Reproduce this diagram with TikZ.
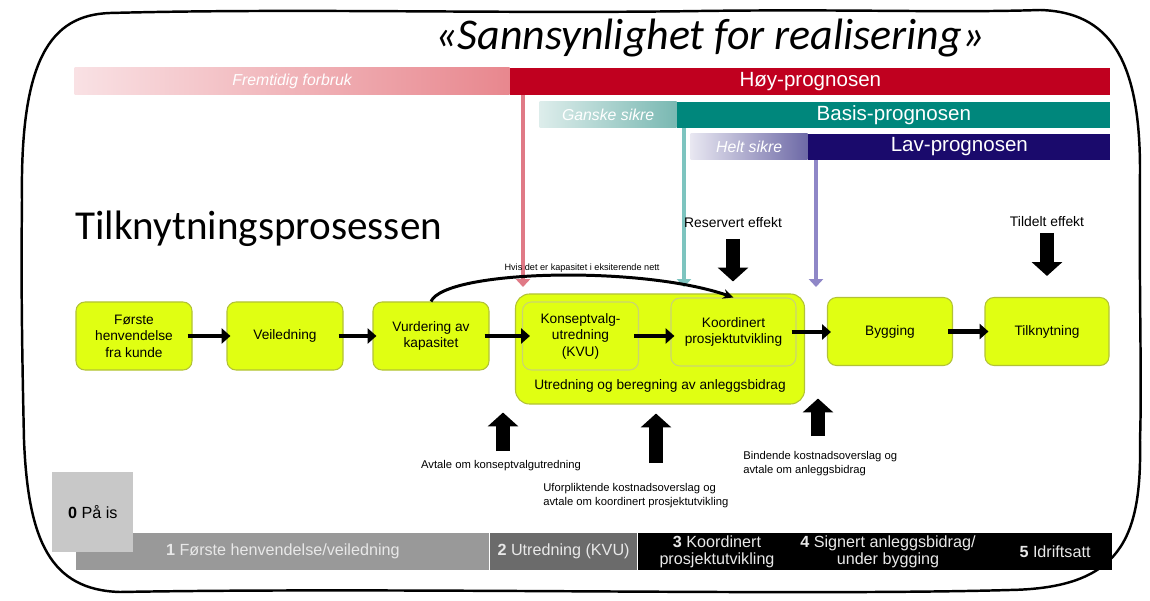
\documentclass[tikz,border=0pt]{standalone}
\usepackage{fontspec}
\setmainfont{Liberation Sans}
\newfontfamily\headfont{Carlito}
\usetikzlibrary{arrows.meta, positioning, calc}
\definecolor{boxfill}{HTML}{E0FF12}
\definecolor{boxedge}{HTML}{B2C236}
\definecolor{hoyred}{HTML}{C0001F}
\definecolor{hoyfadeL}{HTML}{F9E1E4}
\definecolor{hoyfadeR}{HTML}{E8878E}
\definecolor{hoyline}{HTML}{E07A86}
\definecolor{basisteal}{HTML}{00877C}
\definecolor{basisfadeL}{HTML}{DDEDEB}
\definecolor{basisfadeR}{HTML}{79B8B2}
\definecolor{basisline}{HTML}{7DC4BF}
\definecolor{lavnavy}{HTML}{1A0A6C}
\definecolor{lavfadeL}{HTML}{E8E7F1}
\definecolor{lavfadeR}{HTML}{6D69A6}
\definecolor{lavline}{HTML}{8F87C7}
\definecolor{phase0}{HTML}{C8C8C8}
\definecolor{phase1}{HTML}{999999}
\definecolor{phase2}{HTML}{6B6B6B}
\definecolor{phasetext}{HTML}{E8E8E8}
\newlength{\px}\setlength{\px}{0.02cm}
\tikzset{
  procbox/.style={draw=boxedge, line width=0.6pt, rounded corners=9\px, fill=boxfill,
    minimum width=116\px, minimum height=68\px, align=center, inner sep=1pt,
    font=\fontsize{7.8}{9.4}\selectfont},
  progbar/.style={inner sep=0pt, minimum height=27\px, text=white,
    font=\fontsize{11.7}{12}\selectfont},
  fadebar/.style={inner sep=0pt, minimum height=27\px, text=white,
    font=\fontsize{9}{10}\selectfont\itshape},
  prognoline/.style={line width=2.3pt, -{Triangle[length=4.5pt, width=8pt]}},
  flow/.style={line width=2.8pt, -{Triangle[length=5pt, width=8.5pt]},
    shorten <=-5\px, shorten >=-4\px},
  blockarrow/.style={line width=7.9pt, -{Triangle[length=7.9pt, width=17pt]}},
  lbl/.style={inner sep=0pt, font=\fontsize{7.9}{9}\selectfont},
  smalllbl/.style={inner sep=0pt, align=left, font=\fontsize{6.4}{7.6}\selectfont},
  phase/.style={inner sep=0pt, minimum height=37\px, text=phasetext,
    font=\fontsize{9.2}{9.8}\selectfont},
  phasetxt/.style={inner sep=0pt, align=center, text=phasetext,
    font=\fontsize{9.2}{9.8}\selectfont}
}

\begin{document}
\begin{tikzpicture}[x=1\px, y=-1\px]
  \useasboundingbox[fill=white] (0,0) rectangle (1150,601);
  % hand drawn frame
  \draw[line width=1.4pt, line join=round]
    (110,13) .. controls (300,8) and (500,14) .. (700,11)
    .. controls (850,9) and (950,13) .. (1040,10)
    .. controls (1110,12) and (1140,60) .. (1140,170)
    .. controls (1139,300) and (1142,380) .. (1140,440)
    .. controls (1142,540) and (1120,588) .. (1010,590)
    .. controls (800,596) and (400,587) .. (120,592)
    .. controls (50,590) and (28,540) .. (24,440)
    .. controls (22,350) and (21,280) .. (22,200)
    .. controls (20,60) and (50,15) .. (110,13) -- cycle;

  \node[anchor=base, font=\headfont\itshape\fontsize{25}{30}\selectfont] (title)
    at (710,50) {«Sannsynlighet for realisering»};
  \node[anchor=base west, inner sep=0pt, font=\headfont\fontsize{23.4}{28}\selectfont] (heading)
    at (75,240) {Tilknytningsprosessen};

  % prognosis bars
  \node[progbar, fill=hoyred, minimum width=600\px, anchor=west] (hoy) at (510,81.5) {Høy-prognosen};
  \node[fadebar, left color=hoyfadeL, right color=hoyfadeR, minimum width=435\px, anchor=east]
    (hoyfade) at (hoy.west) {Fremtidig forbruk};
  \node[progbar, fill=basisteal, minimum width=433\px, minimum height=26\px, anchor=west]
    (basis) at (677,115) {Basis-prognosen};
  \node[fadebar, left color=basisfadeL, right color=basisfadeR, minimum width=137\px,
    minimum height=26\px, anchor=east] (basisfade) at (basis.west) {Ganske sikre};
  \node[progbar, fill=lavnavy, minimum width=302\px, minimum height=26\px, anchor=west]
    (lav) at (808,147) {Lav-prognosen};
  \node[fadebar, left color=lavfadeL, right color=lavfadeR, minimum width=117\px,
    minimum height=26\px, anchor=east] (lavfade) at (lav.west) {Helt sikre};

  \coordinate (hoyend) at (523,287);
  \coordinate (basisend) at (684,287);
  \coordinate (lavend) at (816,287);
  \draw[prognoline, hoyline] (hoy.south -| hoyend) -- (hoyend);
  \draw[prognoline, basisline] (basis.south -| basisend) -- (basisend);
  \draw[prognoline, lavline] (lav.south -| lavend) -- (lavend);

  % process
  \node[procbox] (forste) at (134,336) {Første\\henvendelse\\fra kunde};
  \node[procbox] (veil) at (285,336) {Veiledning};
  \node[procbox] (vurd) at (431,336) {Vurdering av\\kapasitet};
  \node[procbox, minimum width=289\px, minimum height=110\px, rounded corners=14\px]
    (utred) at (660,349) {};
  \node[procbox, draw=boxedge!70] (kvu) at (580.5,336) {Konseptvalg-\\utredning\\(KVU)};
  \node[procbox, draw=boxedge!70, minimum width=125\px] (koord) at (733.5,332)
    {Koordinert\\prosjektutvikling};
  \node[lbl, font=\fontsize{7.8}{9}\selectfont] (utredlbl) at (660,386)
    {Utredning og beregning av anleggsbidrag};
  \node[procbox, minimum width=125\px] (bygg) at (890,331.5) {Bygging};
  \node[procbox, minimum width=124\px] (tilk) at (1047,331.5) {Tilknytning};

  \draw[flow] (forste) -- (veil);
  \draw[flow] (veil) -- (vurd);
  \draw[flow, shorten >=-8\px] (vurd) -- (kvu);
  \draw[flow] (kvu.east) -- (koord.west |- kvu.east);
  \draw[flow] (koord.east) -- (bygg.west |- koord.east);
  \draw[flow] (bygg) -- (tilk);

  \draw[line width=1.7pt, -{Stealth[length=6pt, width=5.5pt]}]
    (vurd.north) .. controls (445,270) and (640,265) .. (koord.north);
  \node[inner sep=0pt, font=\fontsize{5.2}{6}\selectfont] (kapnote) at (582,268)
    {Hvis det er kapasitet i eksiterende nett};

  % milestones
  \node[lbl] (resv) at (733,223) {Reservert effekt};
  \coordinate (resvtop) at (733,239);
  \draw[blockarrow, shorten >=16\px] (resvtop) -- (resvtop |- koord.north);
  \node[lbl] (tildelt) at (1047,222) {Tildelt effekt};
  \coordinate (tildtop) at (1047,233);
  \draw[blockarrow, shorten >=21\px] (tildtop) -- (tildtop |- tilk.north);

  \node[smalllbl] (kvuavt) at (501,466) {Avtale om konseptvalgutredning};
  \coordinate (kvubot) at (503,451);
  \draw[blockarrow, shorten >=8\px] (kvubot) -- (kvubot |- utred.south);
  \node[smalllbl, anchor=west] (ufor) at (543,495.5)
    {Uforpliktende kostnadsoverslag og\\avtale om koordinert prosjektutvikling};
  \coordinate (uforbot) at (656,463);
  \draw[blockarrow, shorten >=9\px] (uforbot) -- (uforbot |- utred.south);
  \node[smalllbl, anchor=west] (bind) at (743,463.5)
    {Bindende kostnadsoverslag og\\avtale om anleggsbidrag};
  \coordinate (bindbot) at (818,436);
  \draw[blockarrow, shorten >=-6\px] (bindbot) -- (bindbot |- utred.south);

  % phases
  \node[phase, fill=phase1, minimum width=413\px, anchor=west] (ph1) at (76,551.5)
    {\textbf{1} Første henvendelse/veiledning};
  \node[phase, fill=phase2, minimum width=147\px, anchor=west] (ph2) at (ph1.east)
    {\textbf{2} Utredning (KVU)};
  \node[phase, fill=black, minimum width=474\px, anchor=west] (phrest) at (ph2.east) {};
  \node[phasetxt] (ph3) at (717,551.5) {\textbf{3} Koordinert\\prosjektutvikling};
  \node[phasetxt] (ph4) at (888,551.5) {\textbf{4} Signert anleggsbidrag/\\under bygging};
  \node[phasetxt] (ph5) at (1055,551.5) {\textbf{5} Idriftsatt};
  \node[phase, fill=phase0, text=black, minimum width=81\px, minimum height=80\px,
    anchor=north west] (ph0) at (52,472) {\textbf{0} På is};
\end{tikzpicture}
\end{document}
